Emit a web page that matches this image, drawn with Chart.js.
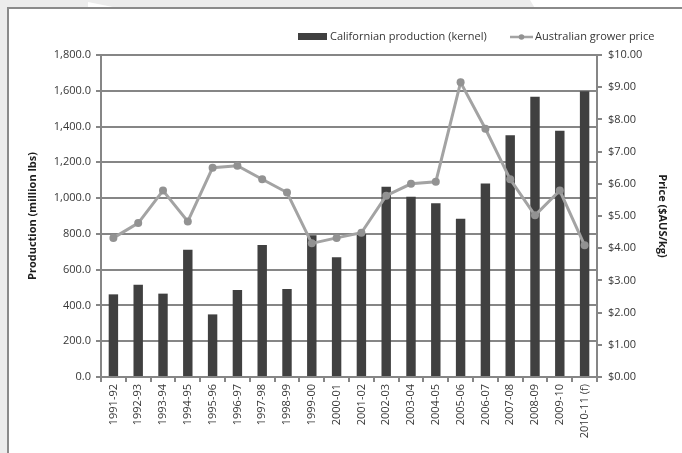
<!DOCTYPE html>
<html>
<head>
<meta charset="utf-8">
<script src="https://cdn.jsdelivr.net/npm/chart.js@4"></script>
<style>
  html, body { margin: 0; padding: 0; background: #ececec; overflow: hidden; }
  .glare { position: absolute; background: #fff; }
  #glare1 { left: 530px; top: 0; width: 160px; height: 8px; clip-path: polygon(0 0, 100% 0, 100% 100%, 3% 100%); }
  #glare2 { left: 88px; top: 2px; width: 30px; height: 6px; clip-path: polygon(0 0, 100% 100%, 0 100%); }
  #frame {
    position: absolute; left: 7px; top: 7px; width: 720px; height: 480px;
    background: #fff; border: 2px solid #8a8a8a;
  }
  #wrap { position: absolute; left: 0; top: 0; width: 682px; height: 453px; }
</style>
</head>
<body>
<div class="glare" id="glare1"></div>
<div class="glare" id="glare2"></div>
<div id="frame"></div>
<div id="wrap"><canvas id="chart" width="682" height="453"></canvas></div>
<script>
'use strict';

const seasons = ['1991-92', '1992-93', '1993-94', '1994-95', '1995-96', '1996-97', '1997-98',
  '1998-99', '1999-00', '2000-01', '2001-02', '2002-03', '2003-04', '2004-05', '2005-06',
  '2006-07', '2007-08', '2008-09', '2009-10', '2010-11 (f)'];

// million lbs kernel
const production = [462, 516, 466, 712, 350, 486, 738, 492, 793, 670, 800, 1064,
  1008, 971, 884, 1082, 1352, 1566, 1377, 1598];

// $AUS/kg
const growerPrice = [4.32, 4.78, 5.79, 4.83, 6.50, 6.56, 6.14, 5.73, 4.15, 4.32, 4.48, 5.63,
  6.00, 6.06, 9.15, 7.71, 6.14, 5.02, 5.79, 4.09];

const FONT = '"Open Sans", "Noto Sans", sans-serif';
const GRID = '#868686';
const TXT = '#363636';

// legend drawn by hand: bar swatch + line-with-dot swatch
const topLegend = {
  id: 'topLegend',
  afterDraw: function (chart) {
    const ctx = chart.ctx;
    const y = 36;
    ctx.save();
    ctx.font = '11px ' + FONT;
    ctx.textBaseline = 'middle';

    ctx.fillStyle = '#404040';
    ctx.fillRect(298, y - 3, 29, 7);
    ctx.fillStyle = TXT;
    ctx.fillText(chart.data.datasets[1].label, 330, y + 1);

    ctx.strokeStyle = '#a3a3a3';
    ctx.lineWidth = 2.5;
    ctx.beginPath();
    ctx.moveTo(510, y + 1);
    ctx.lineTo(533, y + 1);
    ctx.stroke();
    ctx.fillStyle = '#929292';
    ctx.beginPath();
    ctx.arc(521.5, y + 1, 2.8, 0, Math.PI * 2);
    ctx.fill();
    ctx.fillStyle = TXT;
    ctx.fillText(chart.data.datasets[0].label, 535, y + 1);
    ctx.restore();
  }
};

const ctx = document.getElementById('chart').getContext('2d');
new Chart(ctx, {
  type: 'bar',
  data: {
    labels: seasons,
    datasets: [
      {
        type: 'line',
        label: 'Australian grower price',
        data: growerPrice,
        yAxisID: 'y1',
        borderColor: '#a3a3a3',
        backgroundColor: '#929292',
        borderWidth: 3,
        pointRadius: 4,
        pointBorderWidth: 0,
        pointBackgroundColor: '#929292',
        tension: 0,
        order: 0,
      },
      {
        label: 'Californian production (kernel)',
        data: production,
        yAxisID: 'y',
        backgroundColor: '#404040',
        barPercentage: 0.38,
        categoryPercentage: 1,
        order: 1,
      },
    ],
  },
  options: {
    responsive: false,
    animation: false,
    events: [],
    layout: { padding: { top: 55, left: 22, right: 9, bottom: 0 } },
    plugins: {
      legend: { display: false },
      tooltip: { enabled: false },
    },
    scales: {
      x: {
        afterFit: function (s) { s.height = 76; },
        grid: { drawOnChartArea: false, tickLength: 5, color: GRID, lineWidth: 2 },
        border: { color: GRID, width: 2 },
        ticks: {
          color: TXT, font: { family: FONT, size: 11 },
          minRotation: 90, maxRotation: 90, autoSkip: false, padding: 2,
        },
      },
      y: {
        position: 'left',
        min: 0,
        max: 1800,
        afterFit: function (s) { s.width = 79; },
        grid: { color: GRID, lineWidth: 2, tickLength: 5 },
        border: { color: GRID, width: 2 },
        ticks: {
          stepSize: 200, color: TXT, padding: 5,
          font: { family: FONT, size: 11 },
          callback: function (v) {
            return Number(v).toLocaleString('en-US', { minimumFractionDigits: 1, maximumFractionDigits: 1 });
          },
        },
        title: {
          display: true, text: 'Production (million lbs)', color: '#1e1e1e',
          font: { family: FONT, size: 11, weight: 'bold' },
        },
      },
      y1: {
        position: 'right',
        min: 0,
        max: 10,
        afterFit: function (s) { s.width = 76; },
        grid: { drawOnChartArea: false, color: GRID, lineWidth: 2, tickLength: 5 },
        border: { color: GRID, width: 2 },
        ticks: {
          stepSize: 1, color: TXT, padding: 6,
          font: { family: FONT, size: 11 },
          callback: function (v) { return '$' + Number(v).toFixed(2); },
        },
        title: {
          display: true, text: 'Price ($AUS/kg)', color: '#1e1e1e',
          font: { family: FONT, size: 11, weight: 'bold' },
        },
      },
    },
  },
  plugins: [topLegend],
});
</script>
</body>
</html>
